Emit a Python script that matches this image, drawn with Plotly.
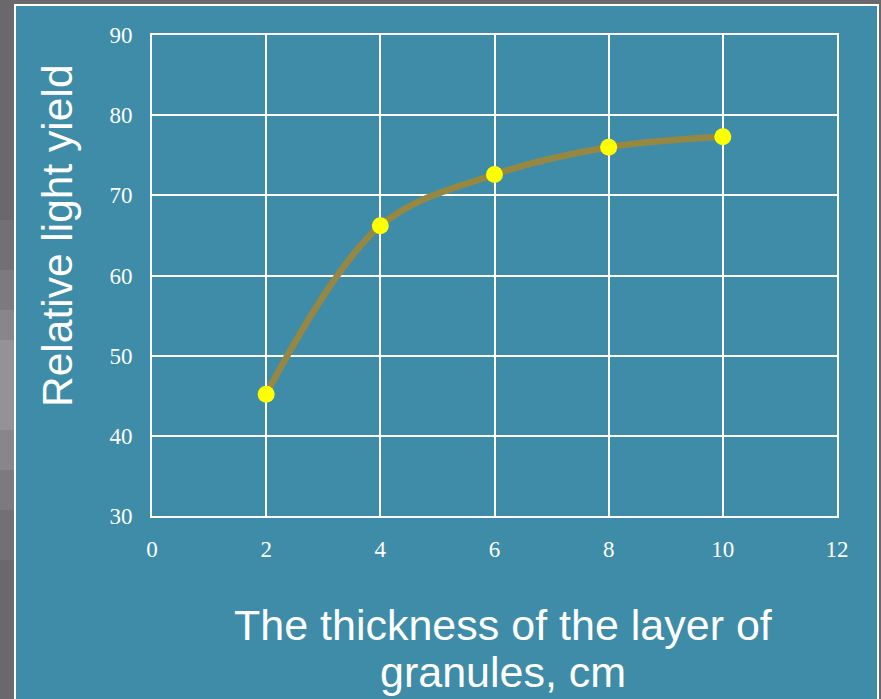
import plotly.graph_objects as go

# Layer thickness (cm) and measured relative light yield
thickness_cm = [2, 4, 6, 8, 10]
light_yield = [45.2, 66.2, 72.6, 76.0, 77.3]

x_ticks = [0, 2, 4, 6, 8, 10, 12]
y_ticks = [30, 40, 50, 60, 70, 80, 90]

TEAL = "#3e8ca8"
GRAY = "#6a686b"
OLIVE = "#968843"

fig = go.Figure()

fig.add_trace(go.Scatter(
    x=thickness_cm,
    y=light_yield,
    mode="lines+markers",
    line=dict(color=OLIVE, width=6.5, shape="spline", smoothing=1.0),
    marker=dict(color="#ffff00", size=17, line=dict(width=0)),
    showlegend=False,
))

axis_common = dict(
    showgrid=True,
    gridcolor="white",
    gridwidth=2,
    showline=True,
    linecolor="white",
    linewidth=2,
    mirror=True,
    zeroline=False,
    ticks="",
    tickfont=dict(family="Liberation Serif", size=23, color="white"),
)

fig.update_xaxes(range=[0, 12], tickvals=x_ticks, ticklabelstandoff=11, **axis_common)
fig.update_yaxes(range=[30, 90], tickvals=y_ticks, ticklabelstandoff=13, **axis_common)

# Backdrop: gray frame with a lighter band on the left, teal panel with white edge
shapes = [
    dict(type="rect", xref="paper", yref="paper", layer="below",
         x0=-1, x1=2, y0=-1, y1=2, fillcolor=GRAY, line=dict(width=0)),
]
band_colors = ["#727074", "#7c7a7f", "#88868b", "#949297", "#88868b", "#7c7a7f", "#727074"]
band_tops = [220, 270, 310, 340, 430, 470, 510]
band_bots = [270, 310, 340, 430, 470, 510, 560]
for c, t, b in zip(band_colors, band_tops, band_bots):
    shapes.append(dict(type="rect", xref="paper", yref="paper", layer="below",
                       x0=-152 / 685, x1=-138 / 685,
                       y0=(516 - b) / 481, y1=(516 - t) / 481,
                       fillcolor=c, line=dict(width=0)))
shapes.append(dict(type="rect", xref="paper", yref="paper", layer="below",
                   x0=(15 - 152) / 685, x1=(878 - 152) / 685,
                   y0=(516 - 710) / 481, y1=(516 - 5) / 481,
                   fillcolor=TEAL, line=dict(color="white", width=2)))

title_font = dict(family="Liberation Sans", size=43, color="white")
annotations = [
    dict(text="Relative light yield", textangle=-90, xref="paper", yref="paper",
         x=(58 - 152) / 685, y=(516 - 236) / 481, xanchor="center", yanchor="middle",
         showarrow=False, font=dict(family="Liberation Sans", size=42.5, color="white")),
    dict(text="The thickness of the layer of", xref="paper", yref="paper",
         x=(503 - 152) / 685, y=(516 - 625) / 481, xanchor="center", yanchor="middle",
         showarrow=False, font=title_font),
    dict(text="granules, cm", xref="paper", yref="paper",
         x=(503 - 152) / 685, y=(516 - 672) / 481, xanchor="center", yanchor="middle",
         showarrow=False, font=title_font),
]

fig.update_layout(
    width=881,
    height=699,
    margin=dict(l=152, r=44, t=35, b=183),
    paper_bgcolor=GRAY,
    plot_bgcolor=TEAL,
    shapes=shapes,
    annotations=annotations,
)

fig.write_html("out.html")
